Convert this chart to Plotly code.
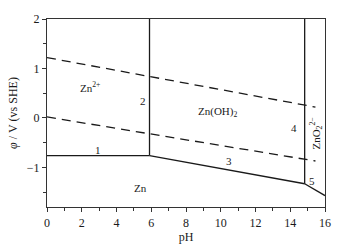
import plotly.graph_objects as go

# Boundary lines (pH, potential V vs SHE)
line1_ph = [0, 5.9]
line1_e = [-0.76, -0.76]
line2_ph = [5.9, 5.9]
line2_e = [-0.76, 2.0]
line3_ph = [5.9, 14.83]
line3_e = [-0.76, -1.33]
line4_ph = [14.83, 14.83]
line4_e = [-1.33, 2.0]
line5_ph = [14.83, 16]
line5_e = [-1.33, -1.57]
o2_ph = [0, 15.45]
o2_e = [1.22, 0.22]
h2_ph = [0, 15.45]
h2_e = [0.02, -0.87]

labels = [
    ("Zn<sup>2+</sup>", 2.5, 0.62, 0),
    ("2", 5.55, 0.35, 0),
    ("Zn(OH)<sub>2</sub>", 9.8, 0.12, 0),
    ("1", 2.95, -0.64, 0),
    ("3", 10.5, -0.88, 0),
    ("Zn", 5.4, -1.42, 0),
    ("4", 14.2, -0.2, 0),
    ("ZnO<sub>2</sub><sup>2−</sup>", 15.47, -0.32, -90),
    ("5", 15.25, -1.27, 0),
]

SERIF = "Liberation Serif"
fig = go.Figure()
ink = "#1a1a1a"
for xs, ys in [(line1_ph, line1_e), (line2_ph, line2_e), (line3_ph, line3_e),
               (line4_ph, line4_e), (line5_ph, line5_e)]:
    fig.add_trace(go.Scatter(x=xs, y=ys, mode="lines",
                             line=dict(color=ink, width=1.3), showlegend=False))
for xs, ys in [(o2_ph, o2_e), (h2_ph, h2_e)]:
    fig.add_trace(go.Scatter(x=xs, y=ys, mode="lines",
                             line=dict(color=ink, width=1.3, dash="9px,6px"),
                             showlegend=False))

for txt, x, y, ang in labels:
    fig.add_annotation(x=x, y=y, text=txt, showarrow=False, textangle=ang,
                       font=dict(family=SERIF, size=11, color=ink))

axis_common = dict(showline=True, linecolor="#333", linewidth=1.3, mirror=True,
                   showgrid=False, zeroline=False, ticks="outside", ticklen=4,
                   tickwidth=1.2, tickcolor="#333",
                   tickfont=dict(family=SERIF, size=12, color=ink))

fig.update_xaxes(range=[0, 16], tickvals=[0, 2, 4, 6, 8, 10, 12, 14, 16],
                 minor=dict(tickvals=[1, 3, 5, 7, 9, 11, 13, 15], ticks="outside",
                            ticklen=2.5, tickcolor="#333"),
                 title=dict(text="pH", standoff=0,
                            font=dict(family=SERIF, size=12, color=ink)),
                 **axis_common)
fig.update_yaxes(range=[-1.8, 2], tickvals=[-1, 0, 1, 2],
                 ticktext=["−1", "0", "1", "2"],
                 minor=dict(tickvals=[-1.5, -0.5, 0.5, 1.5], ticks="outside",
                            ticklen=2.5, tickcolor="#333"),
                 title=dict(text="<i>φ</i> / V (vs SHE)", standoff=6,
                            font=dict(family=SERIF, size=12, color=ink)),
                 **axis_common)

fig.update_layout(width=343, height=252, margin=dict(l=47, r=17, t=13, b=45),
                  font=dict(family=SERIF, color=ink),
                  plot_bgcolor="white", paper_bgcolor="white")

fig.write_html("out.html", config={"displayModeBar": False},
               post_script="document.body.style.margin='0';")
